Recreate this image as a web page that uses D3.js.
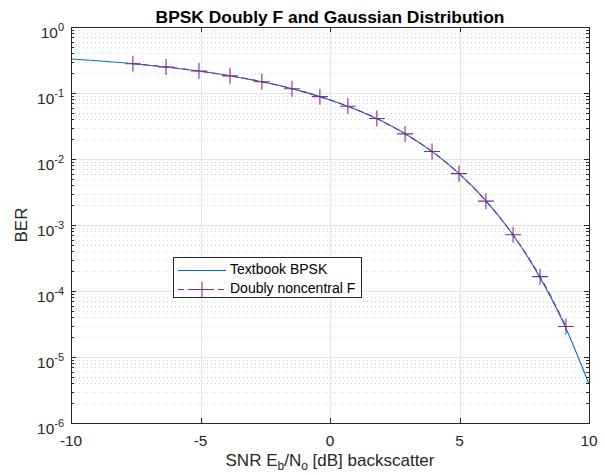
<!DOCTYPE html>
<html>
<head>
<meta charset="utf-8">
<script src="https://cdn.jsdelivr.net/npm/d3@7"></script>
<style>
  body { margin: 0; background: #fff; }
  text { font-family: "Liberation Sans", Arial, Helvetica, sans-serif; }
</style>
</head>
<body>
<div id="chart"></div>
<script>
// textbook BPSK curve, read at 1 dB steps
var snrDb = [-10, -9, -8, -7, -6, -5, -4, -3, -2, -1, 0, 1, 2, 3, 4, 5, 6, 7, 8, 9, 10];
var berTextbook = [0.327, 0.308, 0.287, 0.264, 0.239, 0.213, 0.186, 0.158, 0.131, 0.104, 0.0786,
                   0.0563, 0.0375, 0.0229, 0.0125, 0.00595, 0.00239, 7.7e-4, 1.9e-4, 3.4e-5, 3.9e-6];

// doubly noncentral F points (markers)
var snrF = [-7.61, -6.33, -5.06, -3.86, -2.63, -1.47, -0.39, 0.69, 1.81, 2.90, 3.94, 4.98, 6.02, 7.07, 8.11, 9.11];
var berF = [0.278, 0.248, 0.215, 0.182, 0.148, 0.116, 0.088, 0.063, 0.041, 0.024, 0.013, 0.006, 0.0023, 7.1e-4, 1.65e-4, 2.9e-5];

var xTicks = [-10, -5, 0, 5, 10];
var yExponents = [0, -1, -2, -3, -4, -5, -6];

var margin = {top: 27, right: 16, bottom: 52, left: 71},
    width = 605 - margin.left - margin.right,
    height = 475 - margin.top - margin.bottom;

var svg = d3.select("#chart").append("svg")
    .attr("width", 605)
    .attr("height", 475);

var g = svg.append("g")
    .attr("transform", "translate(" + margin.left + "," + margin.top + ")");

var x = d3.scaleLinear().domain([-10, 10]).range([0, width]);
var y = d3.scaleLog().domain([1e-6, 1]).range([height, 0]);

g.append("rect").attr("width", width).attr("height", height).attr("fill", "#fff");

// minor ticks on the log axis
var minorVals = [];
for (var e = -6; e < 0; e++) {
  for (var m = 2; m <= 9; m++) minorVals.push(m * Math.pow(10, e));
}

// minor grid (dotted)
g.selectAll("line.minorGrid")
  .data(minorVals)
  .enter().append("line")
    .attr("class", "minorGrid")
    .attr("x1", 0).attr("x2", width)
    .attr("y1", function(d) { return Math.round(y(d)) + 0.5; })
    .attr("y2", function(d) { return Math.round(y(d)) + 0.5; })
    .attr("stroke", "#d4d4d4")
    .attr("stroke-width", 1)
    .attr("stroke-dasharray", "1,3");

// major grid
g.selectAll("line.yGrid")
  .data(yExponents.slice(1, -1))
  .enter().append("line")
    .attr("x1", 0).attr("x2", width)
    .attr("y1", function(d) { return Math.round(y(Math.pow(10, d))) + 0.5; })
    .attr("y2", function(d) { return Math.round(y(Math.pow(10, d))) + 0.5; })
    .attr("stroke", "#e3e3e3");

g.selectAll("line.xGrid")
  .data(xTicks.slice(1, -1))
  .enter().append("line")
    .attr("x1", function(d) { return Math.round(x(d)) + 0.5; })
    .attr("x2", function(d) { return Math.round(x(d)) + 0.5; })
    .attr("y1", 0).attr("y2", height)
    .attr("stroke", "#e3e3e3");

// curves
var line = d3.line()
    .x(function(d) { return x(d[0]); })
    .y(function(d) { return y(d[1]); })
    .curve(d3.curveMonotoneX);

g.append("path")
  .datum(d3.zip(snrDb, berTextbook))
  .attr("d", line)
  .attr("fill", "none")
  .attr("stroke", "#0072BD")
  .attr("stroke-width", 1.1);

g.append("path")
  .datum(d3.zip(snrF, berF))
  .attr("d", line)
  .attr("fill", "none")
  .attr("stroke", "#7E2F8E")
  .attr("stroke-width", 1.1)
  .attr("stroke-dasharray", "6,4");

var plus = "M-8,0H8M0,-8V8";
g.selectAll("path.marker")
  .data(d3.zip(snrF, berF))
  .enter().append("path")
    .attr("class", "marker")
    .attr("transform", function(d) { return "translate(" + x(d[0]) + "," + y(d[1]) + ")"; })
    .attr("d", plus)
    .attr("stroke", "#7E2F8E")
    .attr("stroke-width", 1.1)
    .attr("fill", "none");

// box
g.append("rect")
  .attr("x", 0.5).attr("y", 0.5)
  .attr("width", width).attr("height", height)
  .attr("fill", "none")
  .attr("stroke", "#262626")
  .attr("stroke-width", 1);

// ticks: x (bottom and top, inward)
xTicks.forEach(function(t) {
  var px = Math.round(x(t)) + 0.5;
  g.append("line").attr("x1", px).attr("x2", px).attr("y1", height).attr("y2", height - 5).attr("stroke", "#262626");
  g.append("line").attr("x1", px).attr("x2", px).attr("y1", 0).attr("y2", 5).attr("stroke", "#262626");
  g.append("text")
    .attr("x", x(t)).attr("y", height + 23)
    .attr("text-anchor", "middle")
    .attr("font-size", 15.4)
    .attr("fill", "#262626")
    .text(t);
});

// ticks: y (major and minor, both sides)
yExponents.forEach(function(e) {
  var py = Math.round(y(Math.pow(10, e))) + 0.5;
  g.append("line").attr("x1", 0).attr("x2", 5).attr("y1", py).attr("y2", py).attr("stroke", "#262626");
  g.append("line").attr("x1", width).attr("x2", width - 5).attr("y1", py).attr("y2", py).attr("stroke", "#262626");
  var lab = g.append("text")
    .attr("x", -7).attr("y", py + 10)
    .attr("text-anchor", "end")
    .attr("font-size", 15.4)
    .attr("fill", "#262626");
  lab.append("tspan").text("10");
  lab.append("tspan").attr("dy", -7).attr("font-size", 11).text(e);
});
minorVals.forEach(function(v) {
  var py = Math.round(y(v)) + 0.5;
  g.append("line").attr("x1", 0).attr("x2", 3).attr("y1", py).attr("y2", py).attr("stroke", "#262626");
  g.append("line").attr("x1", width).attr("x2", width - 3).attr("y1", py).attr("y2", py).attr("stroke", "#262626");
});

// title and axis labels
svg.append("text")
  .attr("x", margin.left + width / 2).attr("y", 23)
  .attr("text-anchor", "middle")
  .attr("font-size", 17.4)
  .attr("font-weight", "bold")
  .attr("fill", "#000")
  .text("BPSK Doubly F and Gaussian Distribution");

svg.append("text")
  .attr("transform", "translate(27," + (margin.top + height / 2) + ") rotate(-90)")
  .attr("text-anchor", "middle")
  .attr("font-size", 17)
  .attr("fill", "#262626")
  .text("BER");

var xl = svg.append("text")
  .attr("x", margin.left + width / 2).attr("y", 466)
  .attr("text-anchor", "middle")
  .attr("font-size", 17)
  .attr("fill", "#262626");
xl.append("tspan").text("SNR E");
xl.append("tspan").attr("dy", 4).attr("font-size", 12).text("b");
xl.append("tspan").attr("dy", -4).text("/N");
xl.append("tspan").attr("dy", 4).attr("font-size", 12).text("o");
xl.append("tspan").attr("dy", -4).text(" [dB] backscatter");

// legend
var leg = svg.append("g").attr("transform", "translate(173,257)");
leg.append("rect")
  .attr("x", 0.5).attr("y", 0.5)
  .attr("width", 188).attr("height", 40)
  .attr("fill", "#fff")
  .attr("stroke", "#262626");
leg.append("line")
  .attr("x1", 5).attr("x2", 53).attr("y1", 13.5).attr("y2", 13.5)
  .attr("stroke", "#0072BD").attr("stroke-width", 1.1);
leg.append("line")
  .attr("x1", 5).attr("x2", 53).attr("y1", 32.5).attr("y2", 32.5)
  .attr("stroke", "#7E2F8E").attr("stroke-width", 1.1)
  .attr("stroke-dasharray", "6,4");
leg.append("path")
  .attr("transform", "translate(29,32.5)")
  .attr("d", plus)
  .attr("stroke", "#7E2F8E").attr("stroke-width", 1.1);
leg.append("text").attr("x", 57).attr("y", 17).attr("font-size", 14).attr("fill", "#000").text("Textbook BPSK");
leg.append("text").attr("x", 57).attr("y", 36).attr("font-size", 14).attr("fill", "#000").text("Doubly noncentral F");
</script>
</body>
</html>
